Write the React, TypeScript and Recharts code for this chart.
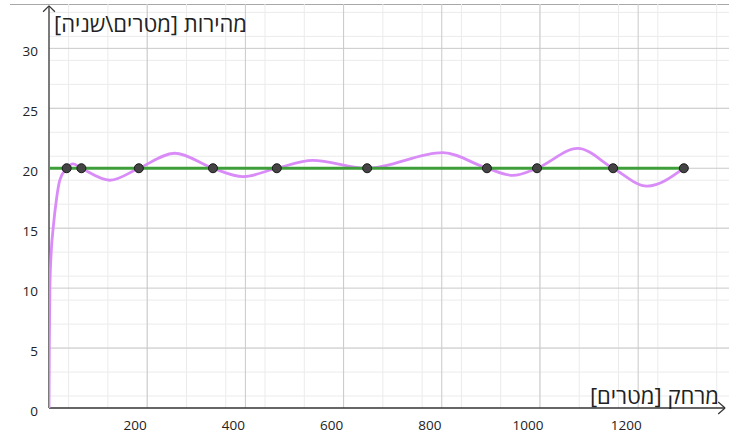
import { ComposedChart, Line, Scatter, XAxis, YAxis, CartesianGrid, ReferenceLine } from 'recharts';

// distance [m] of the measured points, all at the target speed
const pointX = [36, 66, 183, 334, 464, 648, 892, 994, 1149, 1293];
const targetSpeed = 20;

// speed curve: distance [m] -> speed [m/s]
const curveX = [0, 0.6, 1.8, 4.5, 8.5, 15.5, 22, 36, 49, 66, 124, 183, 256, 334, 395, 464, 537, 648, 802, 892, 945, 994, 1077, 1149, 1218, 1293];
const curveY = [0, 5, 10, 13, 15, 17.5, 19, 20, 20.36, 20, 19.0, 20, 21.25, 20, 19.3, 20, 20.65, 20, 21.3, 20, 19.4, 20, 21.65, 20, 18.5, 20];

const xTicks = [200, 400, 600, 800, 1000, 1200];
const yTicks = [0, 5, 10, 15, 20, 25, 30];

const yTitle = 'מהירות [מטרים\\שניה]';
const xTitle = 'מרחק [מטרים]';

const X_MAX = 1385;
const Y_MAX = 33.7;

const curveData = curveX.map((x, i) => ({ x, v: curveY[i] }));
const pointData = pointX.map((x) => ({ x, v: targetSpeed }));
const targetData = [
    { x: 0, v: targetSpeed },
    { x: pointX[pointX.length - 1], v: targetSpeed },
];

// grid lines (minor every 40 m / 1 m/s, major every 200 m / 5 m/s)
const minorV = Array.from({ length: 34 }, (_, i) => (i + 1) * 40);
const minorH = Array.from({ length: 33 }, (_, i) => i + 1);
const majorV = Array.from({ length: 6 }, (_, i) => (i + 1) * 200);
const majorH = Array.from({ length: 6 }, (_, i) => (i + 1) * 5);

const font = '"Open Sans", "DejaVu Sans", sans-serif';
const axisColor = '#333';

function XTick({ x, y, payload }: any) {
    return (
        <text x={x - 12} y={y + 22} textAnchor="middle" fontSize={13.5} fontFamily={font} fill="#222">
            {payload.value}
        </text>
    );
}

function YTick({ x, y, payload }: any) {
    return (
        <text x={x} y={y + 8} textAnchor="end" fontSize={13.5} fontFamily={font} fill="#222">
            {payload.value}
        </text>
    );
}

function Dot({ cx, cy }: any) {
    return <circle cx={cx} cy={cy} r={4.5} fill="#444" stroke="#1a1a1a" strokeWidth={1} />;
}

export default function App() {
    return (
        <div style={{ position: 'absolute', left: 0, top: 0, width: 729, height: 435, background: '#fff' }}>
            <div style={{ position: 'absolute', left: 10, top: 4, width: 719, height: 1, background: '#a8a8a8' }} />
            <ComposedChart width={729} height={435} margin={{ top: 4, right: 0, bottom: 0, left: 0 }}>
                <CartesianGrid verticalValues={minorV} horizontalValues={minorH} stroke="#ebebeb" strokeWidth={1} />
                <CartesianGrid verticalValues={majorV} horizontalValues={majorH} stroke="#c9c9c9" strokeWidth={1} />
                <XAxis
                    type="number"
                    dataKey="x"
                    domain={[0, X_MAX]}
                    ticks={xTicks}
                    allowDataOverflow
                    height={27}
                    axisLine={false}
                    tickLine={false}
                    tickSize={0}
                    tickMargin={0}
                    tick={<XTick />}
                />
                <YAxis
                    type="number"
                    dataKey="v"
                    domain={[0, Y_MAX]}
                    ticks={yTicks}
                    allowDataOverflow
                    width={49}
                    axisLine={false}
                    tickLine={false}
                    tickSize={0}
                    tickMargin={11}
                    tick={<YTick />}
                />
                <ReferenceLine segment={[{ x: 0, y: 0 }, { x: 1377, y: 0 }]} stroke={axisColor} strokeWidth={1.3} ifOverflow="visible" />
                <ReferenceLine segment={[{ x: 1363, y: 0.5 }, { x: 1377, y: 0 }]} stroke={axisColor} strokeWidth={1.2} ifOverflow="visible" />
                <ReferenceLine segment={[{ x: 1363, y: -0.5 }, { x: 1377, y: 0 }]} stroke={axisColor} strokeWidth={1.2} ifOverflow="visible" />
                <ReferenceLine segment={[{ x: 0, y: 0 }, { x: 0, y: 33.55 }]} stroke={axisColor} strokeWidth={1.3} ifOverflow="visible" />
                <ReferenceLine segment={[{ x: -12, y: 33.05 }, { x: 0, y: 33.55 }]} stroke={axisColor} strokeWidth={1.2} ifOverflow="visible" />
                <ReferenceLine segment={[{ x: 12, y: 33.05 }, { x: 0, y: 33.55 }]} stroke={axisColor} strokeWidth={1.2} ifOverflow="visible" />
                <Line
                    data={curveData}
                    dataKey="v"
                    type="monotone"
                    stroke="#d98cf7"
                    strokeWidth={2.8}
                    dot={false}
                    activeDot={false}
                    isAnimationActive={false}
                />
                <Line
                    data={targetData}
                    dataKey="v"
                    type="linear"
                    stroke="#3e9f3a"
                    strokeWidth={3}
                    dot={false}
                    activeDot={false}
                    isAnimationActive={false}
                />
                <Scatter data={pointData} dataKey="v" shape={<Dot />} isAnimationActive={false} />
            </ComposedChart>
            <svg width={729} height={435} style={{ position: 'absolute', left: 0, top: 0, pointerEvents: 'none' }}>
                <text x={247} y={32} fontSize={22} fontFamily={font} fill="#222" direction="rtl" textAnchor="start">
                    {yTitle}
                </text>
                <text x={719} y={404} fontSize={22} fontFamily={font} fill="#222" direction="rtl" textAnchor="start">
                    {xTitle}
                </text>
            </svg>
        </div>
    );
}
